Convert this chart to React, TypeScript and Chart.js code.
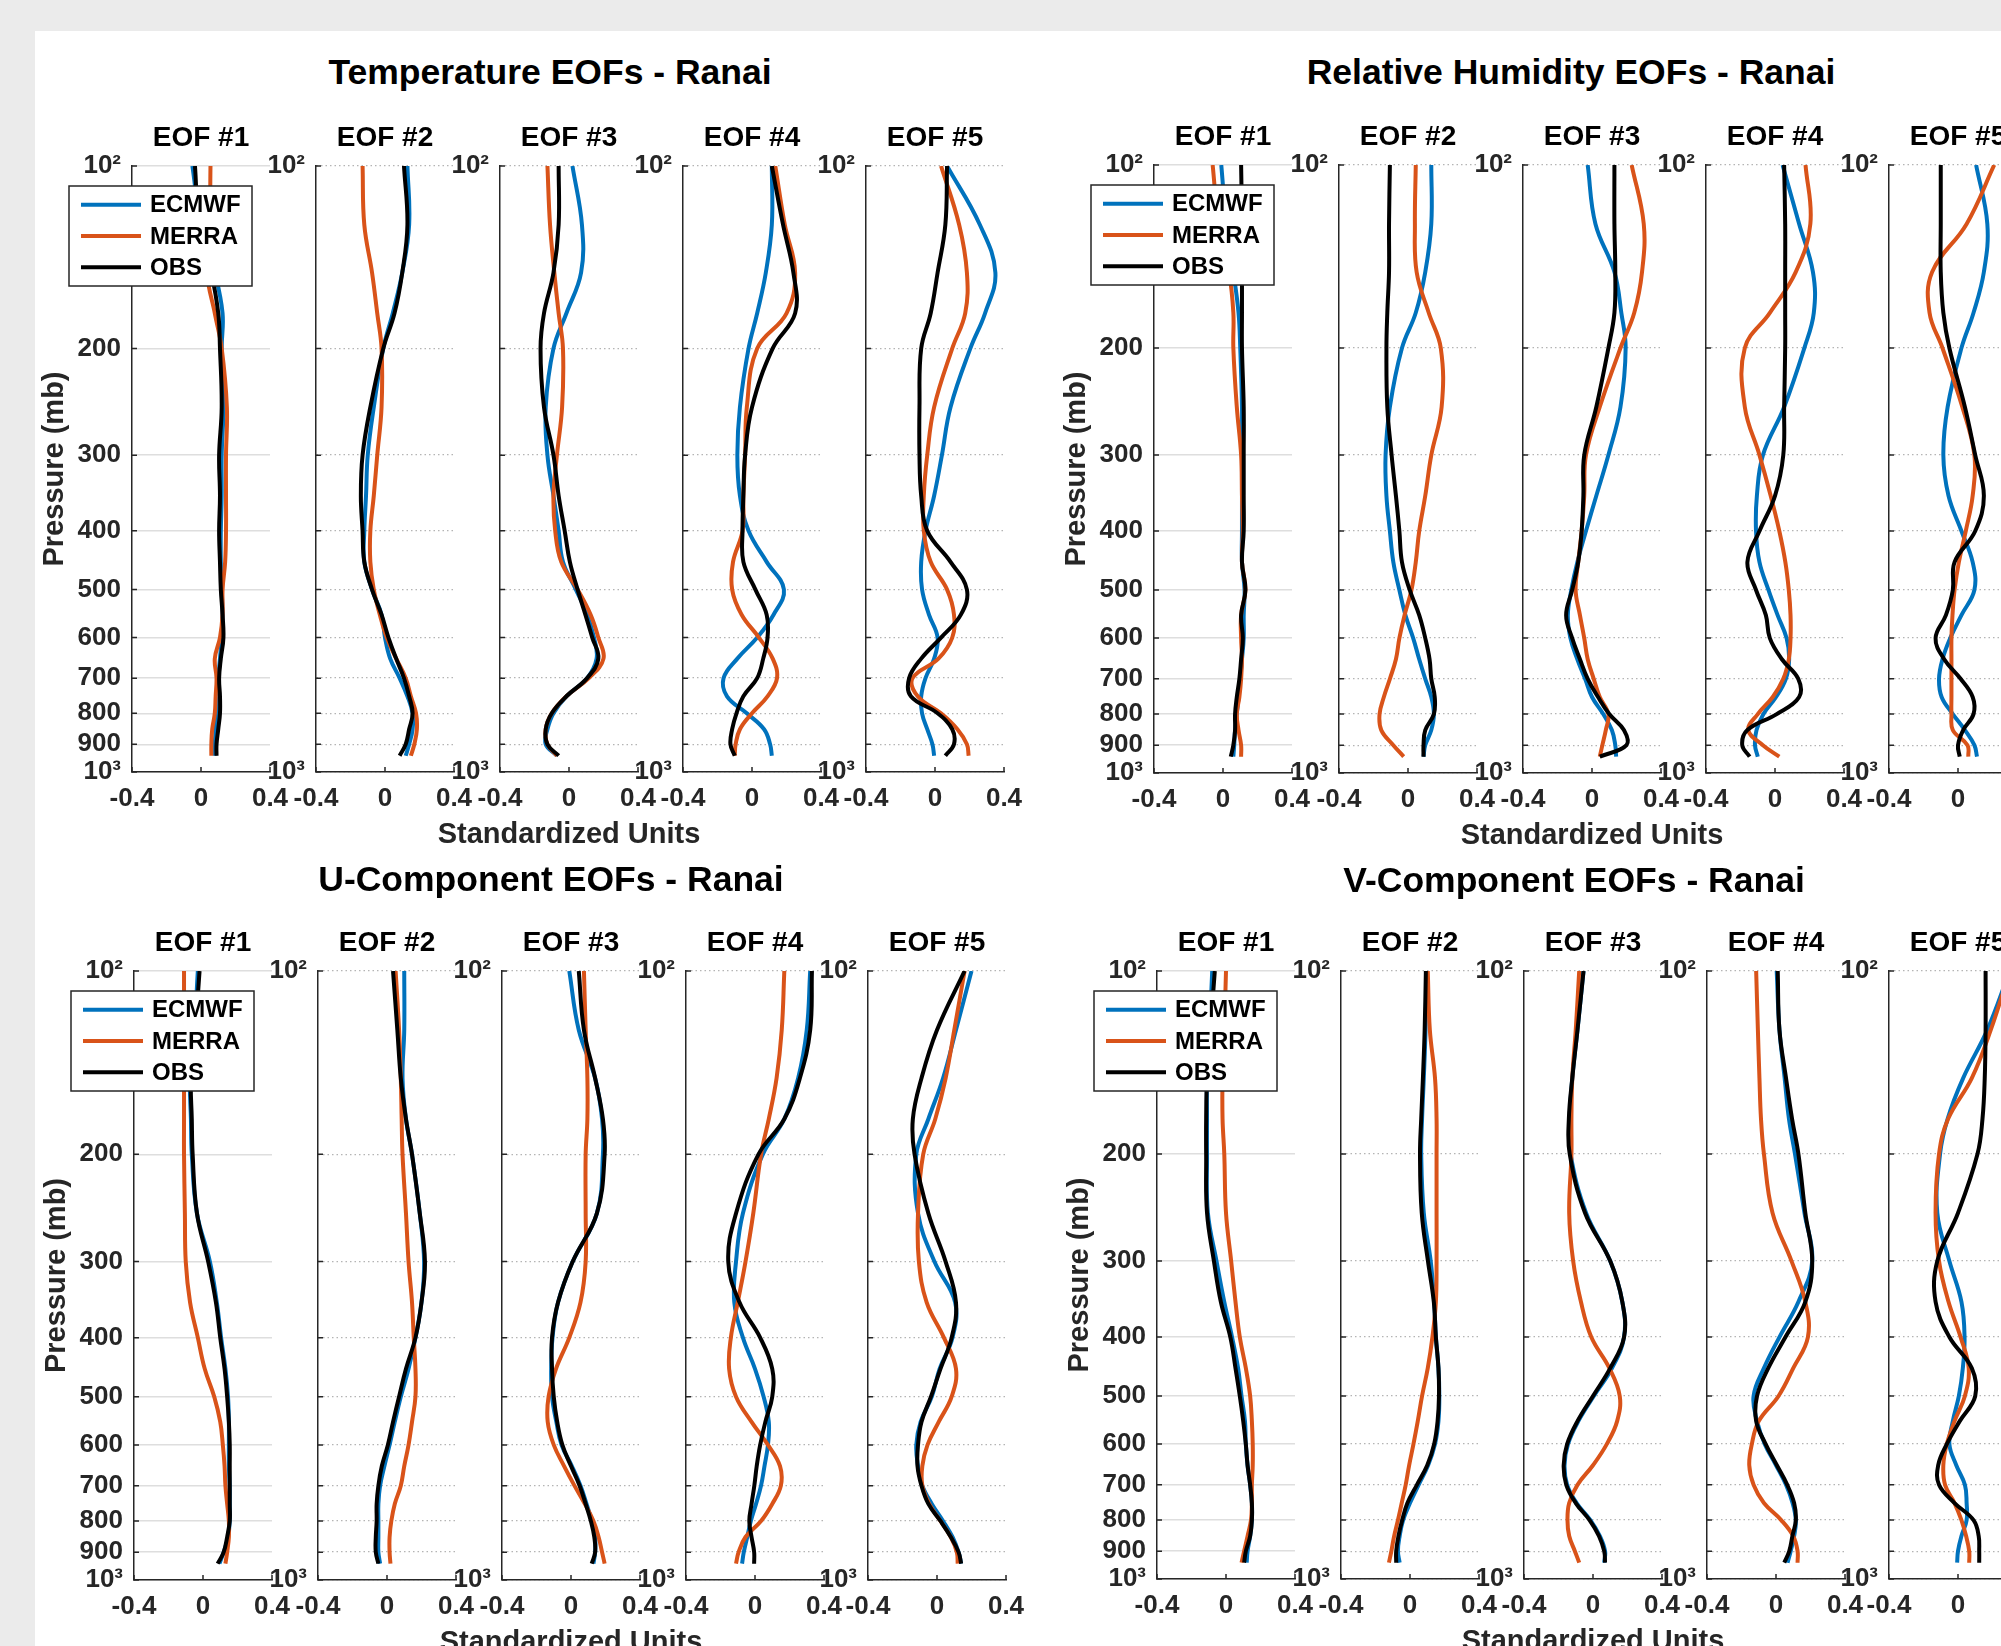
import React, { useEffect, useRef } from 'react';
import { Chart, registerables } from 'chart.js';

Chart.register(...registerables);

// ---------------- data ----------------
const pressureLevels = [100, 125, 150, 175, 200, 250, 300, 350, 400, 450, 500, 550, 600, 650, 700, 750, 800, 850, 900, 940];
const gridLevels = [100, 200, 300, 400, 500, 600, 700, 800, 900, 1000];
const xTickValues = [-0.4, 0, 0.4];
const eofTitles = ['EOF #1', 'EOF #2', 'EOF #3', 'EOF #4', 'EOF #5'];
const seriesNames = ['ECMWF', 'MERRA', 'OBS'];
const seriesColors = ['#0072BD', '#D95319', '#000000'];
const panelTitles = ['Temperature EOFs - Ranai', 'Relative Humidity EOFs - Ranai', 'U-Component EOFs - Ranai', 'V-Component EOFs - Ranai'];
const xAxisLabel = 'Standardized Units';
const yAxisLabel = 'Pressure (mb)';

// Temperature
const temp1Ecmwf = [-0.05, 0.0, 0.08, 0.125, 0.12, 0.13, 0.12, 0.12, 0.115, 0.115, 0.12, 0.125, 0.12, 0.11, 0.10, 0.095, 0.09, 0.085, 0.08, 0.08];
const temp1Merra = [0.055, 0.05, 0.035, 0.08, 0.12, 0.15, 0.145, 0.145, 0.145, 0.14, 0.125, 0.125, 0.11, 0.08, 0.09, 0.085, 0.08, 0.065, 0.06, 0.06];
const temp1Obs = [-0.035, -0.01, 0.06, 0.10, 0.11, 0.12, 0.105, 0.11, 0.105, 0.11, 0.115, 0.125, 0.13, 0.115, 0.105, 0.11, 0.11, 0.10, 0.09, 0.09];
const temp2Ecmwf = [0.13, 0.14, 0.10, 0.045, -0.01, -0.065, -0.10, -0.11, -0.12, -0.12, -0.075, -0.02, 0.0, 0.03, 0.085, 0.13, 0.16, 0.16, 0.14, 0.12];
const temp2Merra = [-0.13, -0.12, -0.075, -0.045, -0.02, -0.02, -0.045, -0.065, -0.085, -0.085, -0.065, -0.03, 0.01, 0.065, 0.12, 0.15, 0.18, 0.185, 0.17, 0.15];
const temp2Obs = [0.11, 0.13, 0.10, 0.055, -0.01, -0.085, -0.13, -0.14, -0.13, -0.12, -0.075, -0.02, 0.02, 0.065, 0.11, 0.14, 0.16, 0.14, 0.12, 0.085];
const temp3Ecmwf = [0.02, 0.075, 0.07, -0.015, -0.09, -0.135, -0.125, -0.09, -0.06, -0.035, 0.04, 0.105, 0.145, 0.16, 0.105, -0.015, -0.09, -0.125, -0.135, -0.07];
const temp3Merra = [-0.125, -0.11, -0.085, -0.06, -0.035, -0.04, -0.07, -0.09, -0.08, -0.045, 0.05, 0.125, 0.17, 0.2, 0.115, -0.015, -0.10, -0.135, -0.125, -0.07];
const temp3Obs = [-0.06, -0.06, -0.09, -0.145, -0.165, -0.145, -0.09, -0.06, -0.025, 0.005, 0.05, 0.095, 0.135, 0.17, 0.105, -0.015, -0.10, -0.135, -0.125, -0.06];
const temp4Ecmwf = [0.115, 0.115, 0.08, 0.03, -0.02, -0.07, -0.085, -0.07, -0.02, 0.085, 0.185, 0.125, 0.03, -0.085, -0.165, -0.145, -0.03, 0.07, 0.105, 0.115];
const temp4Merra = [0.135, 0.19, 0.25, 0.2, 0.03, -0.03, -0.04, -0.05, -0.055, -0.11, -0.115, -0.06, 0.04, 0.12, 0.145, 0.09, 0.0, -0.07, -0.095, -0.10];
const temp4Obs = [0.115, 0.18, 0.24, 0.25, 0.12, 0.0, -0.04, -0.05, -0.055, -0.05, 0.02, 0.085, 0.09, 0.065, 0.03, -0.05, -0.09, -0.115, -0.125, -0.10];
const temp5Ecmwf = [0.07, 0.26, 0.35, 0.29, 0.205, 0.09, 0.04, -0.005, -0.055, -0.08, -0.075, -0.035, 0.015, -0.005, -0.055, -0.08, -0.075, -0.045, -0.015, -0.005];
const temp5Merra = [0.035, 0.14, 0.185, 0.175, 0.10, -0.005, -0.045, -0.065, -0.065, -0.025, 0.07, 0.11, 0.10, 0.02, -0.13, -0.10, 0.035, 0.13, 0.185, 0.195];
const temp5Obs = [0.07, 0.06, 0.015, -0.025, -0.08, -0.09, -0.09, -0.08, -0.045, 0.09, 0.185, 0.15, 0.035, -0.08, -0.15, -0.14, 0.015, 0.10, 0.11, 0.06];

// Relative humidity
const rh1Ecmwf = [-0.01, 0.02, 0.06, 0.09, 0.10, 0.11, 0.11, 0.11, 0.11, 0.11, 0.125, 0.12, 0.12, 0.11, 0.10, 0.09, 0.08, 0.07, 0.065, 0.06];
const rh1Merra = [-0.06, -0.025, 0.035, 0.06, 0.06, 0.08, 0.105, 0.11, 0.115, 0.11, 0.13, 0.105, 0.105, 0.11, 0.105, 0.095, 0.08, 0.09, 0.105, 0.105];
const rh1Obs = [0.105, 0.11, 0.11, 0.11, 0.11, 0.12, 0.12, 0.12, 0.12, 0.11, 0.13, 0.105, 0.115, 0.105, 0.095, 0.08, 0.07, 0.07, 0.06, 0.045];
const rh2Ecmwf = [0.135, 0.135, 0.10, 0.045, -0.035, -0.105, -0.13, -0.125, -0.105, -0.085, -0.05, -0.015, 0.03, 0.065, 0.10, 0.135, 0.15, 0.135, 0.10, 0.09];
const rh2Merra = [0.045, 0.04, 0.05, 0.12, 0.19, 0.195, 0.135, 0.10, 0.065, 0.045, 0.02, -0.02, -0.05, -0.07, -0.105, -0.14, -0.165, -0.155, -0.085, -0.025];
const rh2Obs = [-0.105, -0.11, -0.11, -0.12, -0.125, -0.12, -0.095, -0.07, -0.05, -0.035, 0.01, 0.065, 0.10, 0.125, 0.135, 0.155, 0.15, 0.10, 0.09, 0.09];
const rh3Ecmwf = [-0.025, 0.02, 0.13, 0.17, 0.195, 0.165, 0.095, 0.025, -0.035, -0.085, -0.12, -0.14, -0.125, -0.085, -0.04, 0.0, 0.065, 0.115, 0.135, 0.14];
const rh3Merra = [0.23, 0.30, 0.29, 0.245, 0.165, 0.045, -0.035, -0.045, -0.06, -0.08, -0.095, -0.07, -0.045, -0.025, 0.01, 0.045, 0.095, 0.08, 0.06, 0.045];
const rh3Obs = [0.13, 0.13, 0.135, 0.13, 0.095, 0.025, -0.045, -0.05, -0.06, -0.08, -0.115, -0.15, -0.115, -0.07, -0.025, 0.035, 0.10, 0.185, 0.20, 0.045];
const rh4Ecmwf = [0.044, 0.14, 0.22, 0.225, 0.17, 0.053, -0.07, -0.105, -0.11, -0.09, -0.038, 0.015, 0.067, 0.082, 0.063, 0.006, -0.067, -0.107, -0.116, -0.10];
const rh4Merra = [0.177, 0.205, 0.12, -0.03, -0.175, -0.175, -0.09, -0.025, 0.025, 0.06, 0.08, 0.09, 0.09, 0.08, 0.048, -0.013, -0.10, -0.155, -0.07, 0.025];
const rh4Obs = [0.053, 0.059, 0.059, 0.059, 0.059, 0.053, 0.048, 0.0, -0.09, -0.16, -0.11, -0.053, -0.03, 0.04, 0.135, 0.14, 0.01, -0.16, -0.19, -0.147];
const rh5Ecmwf = [0.105, 0.17, 0.15, 0.09, 0.02, -0.06, -0.085, -0.055, 0.02, 0.085, 0.095, 0.02, -0.045, -0.09, -0.11, -0.095, -0.03, 0.04, 0.095, 0.11];
const rh5Merra = [0.21, 0.05, -0.15, -0.165, -0.09, 0.025, 0.095, 0.085, 0.045, 0.005, -0.02, -0.032, -0.038, -0.038, -0.038, -0.038, -0.038, -0.03, 0.055, 0.06];
const rh5Obs = [-0.10, -0.10, -0.10, -0.085, -0.05, 0.04, 0.10, 0.15, 0.10, -0.02, -0.03, -0.07, -0.13, -0.08, 0.015, 0.085, 0.09, 0.03, 0.0, 0.01];

// U-component
const u1Ecmwf = [-0.03, -0.05, -0.075, -0.07, -0.065, -0.035, 0.04, 0.08, 0.105, 0.13, 0.145, 0.15, 0.15, 0.15, 0.155, 0.155, 0.155, 0.145, 0.12, 0.095];
const u1Merra = [-0.11, -0.11, -0.11, -0.11, -0.11, -0.105, -0.10, -0.075, -0.03, 0.01, 0.065, 0.10, 0.115, 0.125, 0.13, 0.14, 0.15, 0.15, 0.14, 0.13];
const u1Obs = [-0.02, -0.045, -0.07, -0.065, -0.06, -0.035, 0.03, 0.075, 0.10, 0.125, 0.14, 0.15, 0.155, 0.155, 0.155, 0.155, 0.155, 0.14, 0.12, 0.085];
const u2Ecmwf = [0.10, 0.10, 0.09, 0.11, 0.145, 0.19, 0.215, 0.20, 0.165, 0.125, 0.08, 0.045, 0.015, -0.015, -0.04, -0.05, -0.05, -0.05, -0.05, -0.04];
const u2Merra = [0.05, 0.07, 0.08, 0.085, 0.09, 0.11, 0.125, 0.145, 0.155, 0.165, 0.165, 0.145, 0.125, 0.10, 0.08, 0.045, 0.025, 0.015, 0.015, 0.02];
const u2Obs = [0.035, 0.06, 0.08, 0.11, 0.145, 0.19, 0.22, 0.20, 0.165, 0.11, 0.07, 0.035, 0.005, -0.03, -0.05, -0.06, -0.06, -0.065, -0.065, -0.05];
const u3Ecmwf = [-0.01, 0.045, 0.14, 0.18, 0.185, 0.15, 0.01, -0.075, -0.107, -0.115, -0.11, -0.085, -0.055, 0.005, 0.055, 0.09, 0.12, 0.14, 0.14, 0.13];
const u3Merra = [0.075, 0.085, 0.095, 0.095, 0.085, 0.085, 0.085, 0.055, -0.01, -0.087, -0.13, -0.135, -0.10, -0.04, 0.02, 0.08, 0.13, 0.16, 0.18, 0.195];
const u3Obs = [0.045, 0.075, 0.14, 0.185, 0.195, 0.15, 0.01, -0.075, -0.11, -0.11, -0.10, -0.08, -0.05, 0.0, 0.05, 0.085, 0.115, 0.135, 0.14, 0.12];
const u4Ecmwf = [0.32, 0.30, 0.25, 0.17, 0.045, -0.07, -0.11, -0.12, -0.07, 0.0, 0.05, 0.08, 0.075, 0.055, 0.035, 0.006, -0.024, -0.045, -0.065, -0.075];
const u4Merra = [0.17, 0.155, 0.125, 0.08, 0.035, -0.01, -0.055, -0.10, -0.14, -0.15, -0.11, -0.02, 0.075, 0.145, 0.15, 0.10, 0.035, -0.055, -0.095, -0.11];
const u4Obs = [0.33, 0.32, 0.26, 0.17, 0.02, -0.11, -0.155, -0.09, 0.03, 0.10, 0.10, 0.06, 0.03, 0.01, -0.004, -0.02, -0.033, -0.02, -0.005, -0.005];
const u5Ecmwf = [0.20, 0.11, 0.035, -0.05, -0.12, -0.11, -0.015, 0.105, 0.09, 0.015, -0.03, -0.095, -0.12, -0.11, -0.085, -0.03, 0.035, 0.09, 0.125, 0.14];
const u5Merra = [0.16, 0.10, 0.05, -0.01, -0.08, -0.11, -0.105, -0.06, 0.04, 0.11, 0.085, 0.01, -0.055, -0.085, -0.085, -0.045, 0.02, 0.08, 0.115, 0.12];
const u5Obs = [0.16, 0.0, -0.09, -0.14, -0.13, -0.05, 0.05, 0.11, 0.085, 0.02, -0.035, -0.09, -0.11, -0.113, -0.09, -0.05, 0.02, 0.08, 0.125, 0.14];

// V-component
const v1Ecmwf = [-0.08, -0.095, -0.11, -0.11, -0.11, -0.105, -0.055, -0.01, 0.035, 0.07, 0.09, 0.11, 0.115, 0.125, 0.14, 0.15, 0.15, 0.14, 0.125, 0.12];
const v1Merra = [0.0, -0.01, -0.02, -0.02, -0.01, 0.0, 0.03, 0.055, 0.08, 0.115, 0.14, 0.15, 0.155, 0.155, 0.15, 0.15, 0.145, 0.125, 0.105, 0.09];
const v1Obs = [-0.065, -0.09, -0.11, -0.115, -0.115, -0.11, -0.07, -0.03, 0.025, 0.055, 0.08, 0.10, 0.115, 0.125, 0.14, 0.15, 0.15, 0.14, 0.115, 0.105];
const v2Ecmwf = [0.095, 0.09, 0.08, 0.07, 0.065, 0.08, 0.12, 0.14, 0.15, 0.165, 0.17, 0.165, 0.145, 0.105, 0.05, 0.0, -0.04, -0.06, -0.07, -0.06];
const v2Merra = [0.103, 0.115, 0.145, 0.154, 0.154, 0.154, 0.154, 0.15, 0.13, 0.103, 0.07, 0.045, 0.02, -0.005, -0.025, -0.048, -0.07, -0.092, -0.108, -0.122];
const v2Obs = [0.092, 0.085, 0.075, 0.065, 0.058, 0.068, 0.104, 0.138, 0.15, 0.165, 0.168, 0.16, 0.14, 0.10, 0.04, -0.015, -0.045, -0.067, -0.08, -0.08];
const v3Ecmwf = [-0.055, -0.09, -0.12, -0.135, -0.13, -0.04, 0.10, 0.17, 0.18, 0.11, 0.005, -0.085, -0.145, -0.165, -0.15, -0.095, -0.015, 0.04, 0.07, 0.065];
const v3Merra = [-0.08, -0.10, -0.12, -0.125, -0.125, -0.138, -0.115, -0.07, -0.01, 0.095, 0.155, 0.14, 0.08, 0.0, -0.09, -0.138, -0.148, -0.138, -0.105, -0.08];
const v3Obs = [-0.055, -0.09, -0.12, -0.14, -0.135, -0.046, 0.10, 0.17, 0.18, 0.10, 0.0, -0.09, -0.15, -0.17, -0.155, -0.10, -0.02, 0.035, 0.065, 0.07];
const v4Ecmwf = [0.004, 0.02, 0.05, 0.075, 0.11, 0.165, 0.21, 0.13, 0.02, -0.07, -0.13, -0.11, -0.065, 0.0, 0.058, 0.096, 0.115, 0.105, 0.085, 0.067];
const v4Merra = [-0.115, -0.105, -0.096, -0.087, -0.07, -0.02, 0.09, 0.17, 0.185, 0.10, 0.015, -0.10, -0.14, -0.155, -0.13, -0.07, 0.03, 0.10, 0.125, 0.125];
const v4Obs = [0.01, 0.02, 0.058, 0.093, 0.13, 0.17, 0.21, 0.17, 0.055, -0.045, -0.11, -0.115, -0.06, 0.005, 0.065, 0.105, 0.115, 0.095, 0.077, 0.048];
const v5Ecmwf = [0.30, 0.17, 0.03, -0.06, -0.104, -0.12, -0.05, 0.02, 0.038, 0.028, 0.005, -0.03, -0.05, -0.01, 0.04, 0.05, 0.05, 0.02, 0.0, -0.005];
const v5Merra = [0.30, 0.19, 0.08, -0.057, -0.11, -0.13, -0.11, -0.055, 0.015, 0.062, 0.04, -0.02, -0.065, -0.085, -0.075, -0.02, 0.02, 0.047, 0.065, 0.065];
const v5Obs = [0.16, 0.16, 0.155, 0.142, 0.113, 0.0, -0.12, -0.13, -0.05, 0.08, 0.10, 0.01, -0.065, -0.115, -0.11, -0.02, 0.09, 0.12, 0.123, 0.123];

const panelSeries = [
  [[temp1Ecmwf, temp1Merra, temp1Obs], [temp2Ecmwf, temp2Merra, temp2Obs], [temp3Ecmwf, temp3Merra, temp3Obs], [temp4Ecmwf, temp4Merra, temp4Obs], [temp5Ecmwf, temp5Merra, temp5Obs]],
  [[rh1Ecmwf, rh1Merra, rh1Obs], [rh2Ecmwf, rh2Merra, rh2Obs], [rh3Ecmwf, rh3Merra, rh3Obs], [rh4Ecmwf, rh4Merra, rh4Obs], [rh5Ecmwf, rh5Merra, rh5Obs]],
  [[u1Ecmwf, u1Merra, u1Obs], [u2Ecmwf, u2Merra, u2Obs], [u3Ecmwf, u3Merra, u3Obs], [u4Ecmwf, u4Merra, u4Obs], [u5Ecmwf, u5Merra, u5Obs]],
  [[v1Ecmwf, v1Merra, v1Obs], [v2Ecmwf, v2Merra, v2Obs], [v3Ecmwf, v3Merra, v3Obs], [v4Ecmwf, v4Merra, v4Obs], [v5Ecmwf, v5Merra, v5Obs]],
];

// ---------------- layout / style ----------------
const FONT_FAMILY = '"Liberation Sans", Arial, Helvetica, sans-serif';
const AXIS_COLOR = '#262626';
const LP = 100; // room left of the axes
const RP = 80; // room right of the axes (wide enough for the shared x label)
const TP = 60;
const BP = 90;
const XH = 84; // x-scale box height
const AW = 138; // axes width
const LINE_W = 4;

const panelLayouts = [
  { titleX: 550, titleY: 73, axisTop: 166, axisHeight: 606, lefts: [132, 316, 500, 683, 866] },
  { titleX: 1571, titleY: 73, axisTop: 165, axisHeight: 608, lefts: [1154, 1339, 1523, 1706, 1889] },
  { titleX: 551, titleY: 880, axisTop: 971, axisHeight: 609, lefts: [134, 318, 502, 686, 868] },
  { titleX: 1574, titleY: 881, axisTop: 971, axisHeight: 608, lefts: [1157, 1341, 1524, 1707, 1889] },
];

function fmtX(v: number) {
  return Math.abs(v) < 1e-9 ? '0' : v.toFixed(1);
}
function fmtY(v: number, first: boolean) {
  if (v === 100) return '10²';
  if (v === 1000) return '10³';
  return first ? String(v) : '';
}

const decorPlugin = {
  id: 'eofDecor',
  afterDraw(chart: any, _args: any, opts: any) {
    const { ctx, chartArea } = chart;
    const xs = chart.scales.x;
    const ys = chart.scales.y;
    const cx = (chartArea.left + chartArea.right) / 2;
    ctx.save();
    // inward tick marks
    ctx.strokeStyle = AXIS_COLOR;
    ctx.lineWidth = 1.5;
    ctx.beginPath();
    gridLevels.forEach((p) => {
      const py = ys.getPixelForValue(p);
      ctx.moveTo(chartArea.left, py);
      ctx.lineTo(chartArea.left + 5, py);
    });
    xTickValues.forEach((v) => {
      const px = xs.getPixelForValue(v);
      ctx.moveTo(px, chartArea.bottom);
      ctx.lineTo(px, chartArea.bottom - 5);
    });
    ctx.stroke();
    // EOF title
    ctx.fillStyle = '#000';
    ctx.font = `bold 28px ${FONT_FAMILY}`;
    ctx.textAlign = 'center';
    ctx.textBaseline = 'middle';
    ctx.fillText(opts.title, cx, chartArea.top - 27.5);
    // shared x-axis label under the middle subplot
    if (opts.xLabel) {
      ctx.fillStyle = AXIS_COLOR;
      ctx.font = `bold 29px ${FONT_FAMILY}`;
      ctx.textAlign = 'center';
      ctx.textBaseline = 'middle';
      ctx.fillText(opts.xLabel, cx, chartArea.bottom + 63);
    }
    // legend
    if (opts.legend) {
      const bx = chartArea.left - 63;
      const by = chartArea.top + 20;
      const bw = 183;
      const bh = 100;
      ctx.fillStyle = '#ffffff';
      ctx.fillRect(bx, by, bw, bh);
      ctx.strokeStyle = AXIS_COLOR;
      ctx.lineWidth = 1.5;
      ctx.strokeRect(bx, by, bw, bh);
      seriesNames.forEach((name, i) => {
        const ry = by + 18.7 + i * 31.3;
        ctx.strokeStyle = seriesColors[i];
        ctx.lineWidth = LINE_W;
        ctx.beginPath();
        ctx.moveTo(bx + 12, ry);
        ctx.lineTo(bx + 72, ry);
        ctx.stroke();
        ctx.fillStyle = '#000';
        ctx.font = `bold 24px ${FONT_FAMILY}`;
        ctx.textAlign = 'left';
        ctx.textBaseline = 'middle';
        ctx.fillText(name, bx + 81, ry + 1);
      });
    }
    ctx.restore();
  },
};

function SubPlot(props: { left: number; top: number; height: number; eof: number; series: number[][] }) {
  const { left, top, height, eof, series } = props;
  const ref = useRef<HTMLCanvasElement>(null);
  const W = LP + AW + RP;
  const H = TP + height + BP;
  useEffect(() => {
    if (!ref.current) return;
    const first = eof === 0;
    const chart = new Chart(ref.current, {
      type: 'line',
      data: {
        datasets: series.map((vals, si) => ({
          label: seriesNames[si],
          data: pressureLevels.map((p, i) => ({ x: vals[i], y: p })),
          borderColor: seriesColors[si],
          backgroundColor: seriesColors[si],
          borderWidth: LINE_W,
          pointRadius: 0,
          pointHoverRadius: 0,
          tension: 0.4,
          fill: false,
          order: 3 - si,
        })),
      },
      options: {
        animation: false,
        responsive: false,
        indexAxis: 'y',
        events: [],
        layout: { autoPadding: false, padding: { left: 0, top: TP, right: RP, bottom: BP - XH } },
        plugins: {
          legend: { display: false },
          tooltip: { enabled: false },
          eofDecor: { title: eofTitles[eof], legend: first, xLabel: eof === 2 ? xAxisLabel : '' },
        } as any,
        scales: {
          x: {
            type: 'linear',
            position: 'bottom',
            min: -0.4,
            max: 0.4,
            afterBuildTicks: (s: any) => {
              s.ticks = xTickValues.map((v) => ({ value: v }));
            },
            afterFit: (s: any) => {
              s.height = XH;
            },
            grid: { display: false, drawTicks: false },
            border: { display: true, color: AXIS_COLOR, width: 1.5 },
            ticks: {
              autoSkip: false,
              maxRotation: 0,
              padding: 11,
              color: AXIS_COLOR,
              font: { family: FONT_FAMILY, size: 26, weight: 'bold' },
              callback: (v: any) => fmtX(Number(v)),
            },
          },
          y: {
            type: 'logarithmic',
            position: 'left',
            min: 100,
            max: 1000,
            reverse: true,
            afterBuildTicks: (s: any) => {
              s.ticks = gridLevels.map((v) => ({ value: v }));
            },
            afterFit: (s: any) => {
              s.width = LP;
            },
            grid: {
              display: true,
              drawTicks: false,
              color: first ? '#dedede' : '#b4b4b4',
              lineWidth: first ? 1.5 : 1.3,
            },
            border: { display: true, color: AXIS_COLOR, width: 1.5, dash: first ? [] : [1.5, 3] },
            ticks: {
              autoSkip: false,
              padding: 11,
              color: AXIS_COLOR,
              font: { family: FONT_FAMILY, size: 26, weight: 'bold' },
              callback: (v: any) => fmtY(Number(v), first),
            },
            title: {
              display: first,
              text: yAxisLabel,
              color: AXIS_COLOR,
              font: { family: FONT_FAMILY, size: 29, weight: 'bold' },
              padding: { top: 5.6, bottom: 0 },
            },
          },
        } as any,
      } as any,
      plugins: [decorPlugin as any],
    });
    return () => chart.destroy();
  }, []);
  return (
    <canvas
      ref={ref}
      width={W}
      height={H}
      style={{ position: 'absolute', left: left - LP, top: top - TP, width: W, height: H }}
    />
  );
}

export default function App() {
  return (
    <div
      style={{
        position: 'fixed',
        left: 0,
        top: 0,
        width: 2001,
        height: 1646,
        overflow: 'hidden',
        background: '#ebebeb',
        fontFamily: FONT_FAMILY,
      }}
    >
      <div style={{ position: 'absolute', left: 35, top: 31, right: 0, bottom: 0, background: '#ffffff' }} />
      {panelLayouts.map((pl, pi) => (
        <React.Fragment key={pi}>
          <div
            style={{
              position: 'absolute',
              left: pl.titleX,
              top: pl.titleY,
              transform: 'translate(-50%, -50%)',
              whiteSpace: 'nowrap',
              fontSize: 35.5,
              lineHeight: 1,
              fontWeight: 'bold',
              color: '#000',
            }}
          >
            {panelTitles[pi]}
          </div>
          {pl.lefts.map((lx, ei) => (
            <SubPlot
              key={ei}
              left={lx}
              top={pl.axisTop}
              height={pl.axisHeight}
              eof={ei}
              series={panelSeries[pi][ei]}
            />
          ))}
        </React.Fragment>
      ))}
    </div>
  );
}
